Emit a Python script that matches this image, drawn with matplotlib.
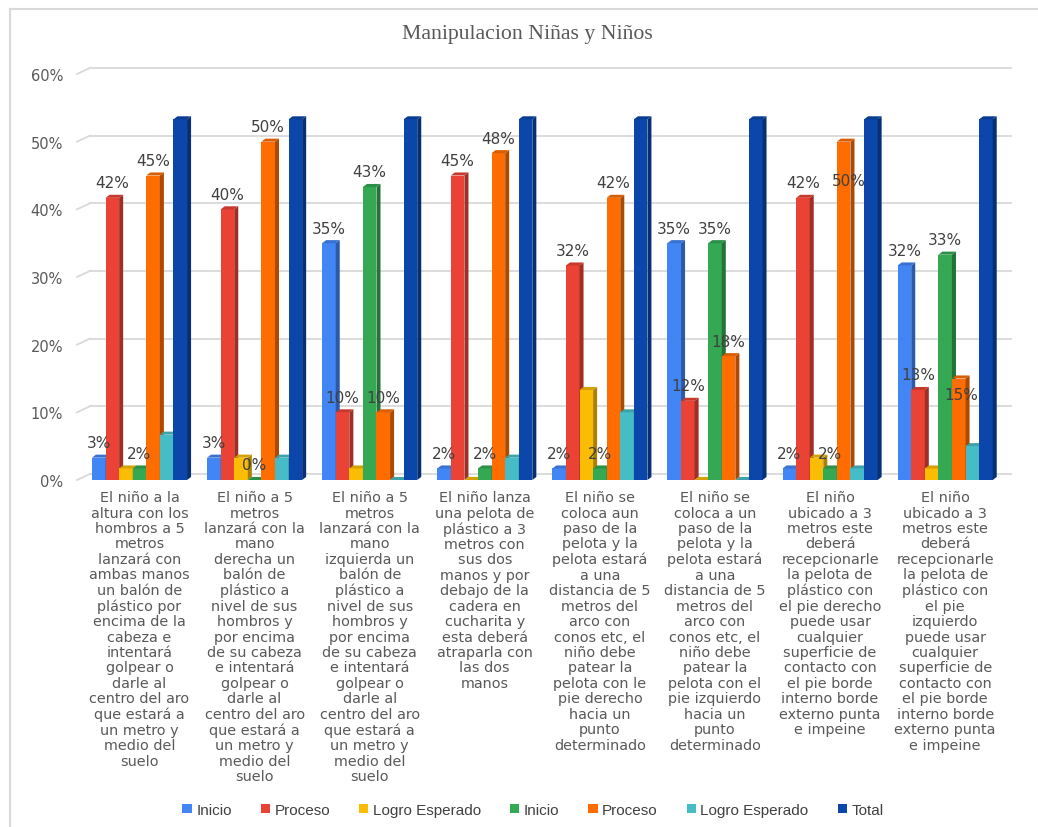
import matplotlib.pyplot as plt
import matplotlib.colors as mcolors
from matplotlib.patches import Polygon, Patch
from matplotlib.lines import Line2D

# porcentajes por actividad (n = 60)
series_names = ['Inicio', 'Proceso', 'Logro Esperado', 'Inicio', 'Proceso', 'Logro Esperado', 'Total']
inicio_1 = [3.3, 3.3, 35.0, 1.7, 1.7, 35.0, 1.7, 31.7]
proceso_1 = [41.7, 40.0, 10.0, 45.0, 31.7, 11.7, 41.7, 13.3]
logro_1 = [1.7, 3.3, 1.7, 0.0, 13.3, 0.0, 3.3, 1.7]
inicio_2 = [1.7, 0.0, 43.3, 1.7, 1.7, 35.0, 1.7, 33.3]
proceso_2 = [45.0, 50.0, 10.0, 48.3, 41.7, 18.3, 50.0, 15.0]
logro_2 = [6.7, 3.3, 0.0, 3.3, 10.0, 0.0, 1.7, 5.0]
total = [53.3, 53.3, 53.3, 53.3, 53.3, 53.3, 53.3, 53.3]

categories = [
    "El niño a la\naltura con los\nhombros a 5\nmetros\nlanzará con\nambas manos\nun balón de\nplástico por\nencima de la\ncabeza e\nintentará\ngolpear o\ndarle al\ncentro del aro\nque estará a\nun metro y\nmedio del\nsuelo",
    "El niño a 5\nmetros\nlanzará con la\nmano\nderecha un\nbalón de\nplástico a\nnivel de sus\nhombros y\npor encima\nde su cabeza\ne intentará\ngolpear o\ndarle al\ncentro del aro\nque estará a\nun metro y\nmedio del\nsuelo",
    "El niño a 5\nmetros\nlanzará con la\nmano\nizquierda un\nbalón de\nplástico a\nnivel de sus\nhombros y\npor encima\nde su cabeza\ne intentará\ngolpear o\ndarle al\ncentro del aro\nque estará a\nun metro y\nmedio del\nsuelo",
    "El niño lanza\nuna pelota de\nplástico a 3\nmetros con\nsus dos\nmanos y por\ndebajo de la\ncadera en\ncucharita y\nesta deberá\natraparla con\nlas dos\nmanos",
    "El niño se\ncoloca aun\npaso de la\npelota y la\npelota estará\na una\ndistancia de 5\nmetros del\narco con\nconos etc, el\nniño debe\npatear la\npelota con le\npie derecho\nhacia un\npunto\ndeterminado",
    "El niño se\ncoloca a un\npaso de la\npelota y la\npelota estará\na una\ndistancia de 5\nmetros del\narco con\nconos etc, el\nniño debe\npatear la\npelota con el\npie izquierdo\nhacia un\npunto\ndeterminado",
    "El niño\nubicado a 3\nmetros este\ndeberá\nrecepcionarle\nla pelota de\nplástico con\nel pie derecho\npuede usar\ncualquier\nsuperficie de\ncontacto con\nel pie borde\ninterno borde\nexterno punta\ne impeine",
    "El niño\nubicado a 3\nmetros este\ndeberá\nrecepcionarle\nla pelota de\nplástico con\nel pie\nizquierdo\npuede usar\ncualquier\nsuperficie de\ncontacto con\nel pie borde\ninterno borde\nexterno punta\ne impeine",
]
yticks = [0, 10, 20, 30, 40, 50, 60]

data = [inicio_1, proceso_1, logro_1, inicio_2, proceso_2, logro_2, total]
colors = ['#4285F4', '#EA4335', '#FBBC04', '#34A853', '#FF6D01', '#46BDC6', '#0B47AB']
labeled = [True, True, False, True, True, False, False]
# etiquetas que la hoja de cálculo movió (grupo, serie): (dx, dy) en puntos
label_shift = {(6, 4): (4, -33), (7, 4): (2, -17)}


def shade(c, f):
    r, g, b = mcolors.to_rgb(c)
    return (r * f, g * f, b * f)


fig = plt.figure(figsize=(10.38, 8.28), dpi=100)
ax = fig.add_axes([77 / 1038, 1 - 481 / 828, (1011 - 77) / 1038, (481 - 75) / 828])
ax.set_xlim(-0.543, 7.572)
ax.set_ylim(0, 60)

w = 0.118
dx = 0.035
dy = 0.45
xg = -0.43
dyg = 0.9

# grid con perspectiva
for t in yticks:
    ax.plot([xg, 7.572], [t + dyg, t + dyg], color='#D9D9D9', lw=1.3, zorder=1, clip_on=False)
    ax.plot([-0.543, xg], [t, t + dyg], color='#D9D9D9', lw=1.3, zorder=1, clip_on=False)

for j, vals in enumerate(data):
    z = 2 + j * 0.01
    xs = [i + (j - 3) * w for i in range(len(vals))]
    ax.bar(xs, vals, width=w, color=colors[j], linewidth=0, zorder=z)
    for x, v in zip(xs, vals):
        x1 = x + w / 2
        x0 = x - w / 2
        side = Polygon([(x1, 0), (x1 + dx, dy), (x1 + dx, v + dy), (x1, v)],
                       closed=True, facecolor=shade(colors[j], 0.68), linewidth=0, zorder=z)
        top = Polygon([(x0, v), (x0 + dx, v + dy), (x1 + dx, v + dy), (x1, v)],
                      closed=True, facecolor=shade(colors[j], 0.85), linewidth=0, zorder=z)
        ax.add_patch(side)
        ax.add_patch(top)
    if labeled[j]:
        for i, (x, v) in enumerate(zip(xs, vals)):
            ox, oy = label_shift.get((i, j), (0, 5.5))
            ax.annotate(f'{v:.0f}%', (x, v), xytext=(ox, oy), textcoords='offset points',
                        ha='center', va='bottom', fontsize=11, color='#404040', zorder=10)

ax.set_yticks(yticks)
ax.set_yticklabels([f'{t}%' for t in yticks], fontsize=10.5, color='#595959')
ax.tick_params(axis='y', length=0, pad=10)
ax.set_xticks([])
for s in ax.spines.values():
    s.set_visible(False)

for i, txt in enumerate(categories):
    ax.text(i, -0.025, txt, transform=ax.get_xaxis_transform(), ha='center', va='top',
            multialignment='center', fontsize=10.4, color='#595959', linespacing=1.13)

fig.text(527 / 1038, 1 - 35 / 828, 'Manipulacion Niñas y Niños', ha='center', va='center',
         fontsize=15.7, color='#595959', family='Liberation Serif')

handles = [Patch(facecolor=c, edgecolor='none') for c in colors]
fig.legend(handles, series_names, loc='center', bbox_to_anchor=(533 / 1038, 1 - 811 / 828),
           ncol=7, frameon=False, handlelength=0.6, handleheight=0.6, handletextpad=0.3,
           columnspacing=1.9, prop={'family': 'Liberation Sans', 'size': 11},
           labelcolor='#404040')

# marco de la imagen
fig.add_artist(Line2D([10 / 1038, 1], [1 - 10 / 828, 1 - 10 / 828], color='#D9D9D9', lw=1.5))
fig.add_artist(Line2D([10 / 1038, 10 / 1038], [0, 1 - 10 / 828], color='#D9D9D9', lw=1.5))

fig.savefig('out.png', dpi=100, facecolor='white')
